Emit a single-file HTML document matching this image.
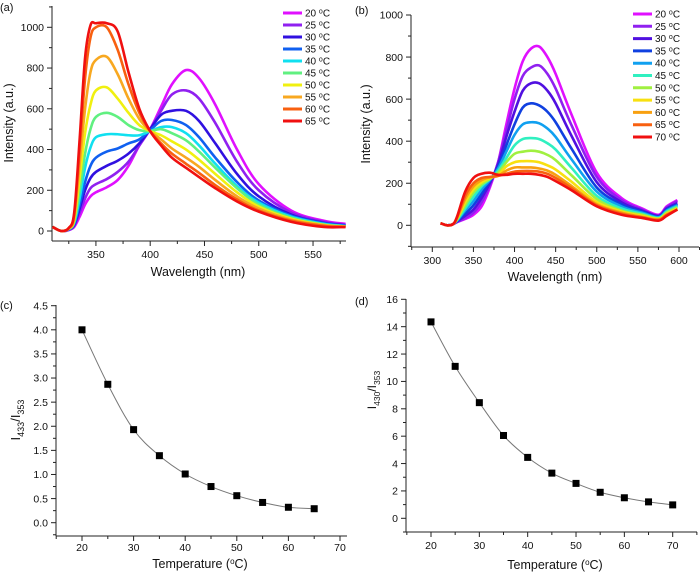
<!DOCTYPE html>
<html><head><meta charset="utf-8"><style>
html,body{margin:0;padding:0;background:#fff;}
svg{display:block;font-family:"Liberation Sans",Arial,sans-serif;}
</style></head><body>
<svg id="fig" width="700" height="572" viewBox="0 0 700 572" xmlns="http://www.w3.org/2000/svg"></svg>
<script>
// ---- Panel (a) data ----
const aWave = [310,318,325,330,335,340,345,350,360,370,380,390,400,410,420,433,445,460,480,500,530,560,580];
const aTemps = ["20 °C","25 °C","30 °C","35 °C","40 °C","45 °C","50 °C","55 °C","60 °C","65 °C"];
const aColors = ["#e010ff","#9020f0","#3010e0","#1060f0","#10e0f0","#60f080","#f0f010","#f8a820","#f86010","#f01010"];
const a20 = [20,0,5,20,70,130,170,190,215,250,320,420,500,610,720,790,750,620,400,230,100,50,35];
const a25 = [20,0,5,25,90,160,210,230,255,290,340,420,500,590,670,690,650,530,340,200,90,45,30];
const a30 = [20,0,8,30,110,200,260,290,320,345,380,430,500,570,590,590,540,430,280,170,80,40,28];
const a35 = [20,0,8,35,130,240,320,360,390,405,430,450,495,540,545,520,460,360,240,150,75,38,25];
const a40 = [20,0,10,40,160,310,410,460,475,475,470,470,490,510,510,480,420,330,220,140,70,35,25];
const a45 = [20,0,10,45,200,380,500,560,580,560,520,495,490,500,480,445,390,310,210,130,65,32,22];
const a50 = [20,0,12,55,260,480,620,690,705,650,580,520,490,470,440,400,350,280,190,120,60,30,22];
const a55 = [20,0,12,65,330,600,780,840,855,770,650,550,490,450,405,360,315,250,170,110,55,28,20];
const a60 = [20,0,15,80,400,750,950,1000,1000,890,720,580,490,430,380,330,285,225,155,100,50,25,20];
const a65 = [20,0,15,90,450,850,1010,1020,1020,980,780,600,490,420,360,310,265,210,145,95,45,20,20];
const aSeries = [a20,a25,a30,a35,a40,a45,a50,a55,a60,a65];
const aXTicks = [350,400,450,500,550];
const aYTicks = [0,200,400,600,800,1000];
// ---- Panel (b) data ----
const bWave = [310,318,325,330,340,350,360,370,380,390,400,410,420,430,440,450,470,500,530,555,575,585,598];
const bTemps = ["20 °C","25 °C","30 °C","35 °C","40 °C","45 °C","50 °C","55 °C","60 °C","65 °C","70 °C"];
const bColors = ["#e010ff","#9020f0","#5010e0","#1040e0","#10a0f0","#30f0c0","#a0f040","#f8e010","#f8a010","#f86010","#f01010"];
const b20 = [10,0,5,15,30,50,90,180,300,480,650,780,840,850,800,720,520,250,130,80,50,90,120];
const b25 = [10,0,5,15,35,60,110,190,300,450,600,710,750,760,720,650,470,230,120,75,45,85,115];
const b30 = [10,0,5,18,45,75,130,200,290,420,540,640,675,675,640,580,420,205,110,70,45,80,105];
const b35 = [10,0,5,20,55,95,150,210,280,380,480,560,580,570,540,490,360,180,100,65,40,75,100];
const b40 = [10,0,5,22,70,115,170,215,270,350,430,480,490,485,460,420,310,160,90,60,38,70,95];
const b45 = [10,0,5,25,80,135,185,220,260,320,380,410,415,410,390,360,270,140,80,55,35,65,90];
const b50 = [10,0,5,28,95,155,195,220,250,300,340,350,355,350,335,310,235,125,70,50,32,60,85];
const b55 = [10,0,5,30,110,170,205,225,240,280,300,305,305,300,285,265,205,110,65,45,30,55,80];
const b60 = [10,0,5,33,125,185,215,228,235,260,275,275,275,270,260,240,185,100,60,40,28,50,75];
const b65 = [10,0,5,36,140,200,225,230,235,245,255,258,258,255,245,225,175,95,55,38,25,50,75];
const b70 = [10,0,5,40,160,225,245,250,240,240,245,245,245,240,230,210,165,90,50,35,22,45,75];
const bSeries = [b20,b25,b30,b35,b40,b45,b50,b55,b60,b65,b70];
const bXTicks = [300,350,400,450,500,550,600];
const bYTicks = [0,200,400,600,800,1000];
// ---- Panel (c) data ----
const cTemps = [20,25,30,35,40,45,50,55,60,65];
const cRatio = [4.0,2.87,1.93,1.39,1.01,0.75,0.56,0.42,0.32,0.29];
const cXTicks = [20,30,40,50,60,70];
const cYTicks = [0,0.5,1,1.5,2,2.5,3,3.5,4,4.5];
// ---- Panel (d) data ----
const dTemps = [20,25,30,35,40,45,50,55,60,65,70];
const dRatio = [14.35,11.1,8.45,6.05,4.45,3.3,2.55,1.9,1.5,1.2,0.98];
const dXTicks = [20,30,40,50,60,70];
const dYTicks = [0,2,4,6,8,10,12,14,16];

const NS="http://www.w3.org/2000/svg";
const fig=document.getElementById('fig');
function el(tag,attrs,parent){const e=document.createElementNS(NS,tag);for(const k in attrs)e.setAttribute(k,attrs[k]);(parent||fig).appendChild(e);return e;}
function txt(s,x,y,size,anchor,parent){const t=el('text',{x:x,y:y,'font-size':size,'text-anchor':anchor||'middle',fill:'#111'},parent);t.textContent=s;return t;}
function lin(d0,d1,r0,r1){return v=>r0+(v-d0)*(r1-r0)/(d1-d0);}
function smooth(pts){let d='M'+pts[0][0].toFixed(2)+','+pts[0][1].toFixed(2);
 for(let i=0;i<pts.length-1;i++){const p0=pts[i-1]||pts[i],p1=pts[i],p2=pts[i+1],p3=pts[i+2]||p2;
  const c1=[p1[0]+(p2[0]-p0[0])/6,p1[1]+(p2[1]-p0[1])/6],c2=[p2[0]-(p3[0]-p1[0])/6,p2[1]-(p3[1]-p1[1])/6];
  d+='C'+c1[0].toFixed(2)+','+c1[1].toFixed(2)+' '+c2[0].toFixed(2)+','+c2[1].toFixed(2)+' '+p2[0].toFixed(2)+','+p2[1].toFixed(2);}
 return d;}
function axes(g,o){
 el('line',{x1:o.left,y1:o.bottom,x2:o.xEnd,y2:o.bottom,stroke:'#222','stroke-width':1},g);
 el('line',{x1:o.left,y1:o.bottom,x2:o.left,y2:o.yTop,stroke:'#222','stroke-width':1},g);
 const off=o.xOff||17;
 o.xt.forEach(v=>{const x=o.xs(v);el('line',{x1:x,y1:o.bottom,x2:x,y2:o.bottom+5,stroke:'#222'},g);txt(String(v),x,o.bottom+off,10.5,'middle',g);});
 o.xMinor.forEach(v=>{const x=o.xs(v);el('line',{x1:x,y1:o.bottom,x2:x,y2:o.bottom+3,stroke:'#222'},g);});
 o.yt.forEach(v=>{const y=o.ys(v);el('line',{x1:o.left-5,y1:y,x2:o.left,y2:y,stroke:'#222'},g);txt(o.yfmt(v),o.left-8,y+3.7,10.5,'end',g);});
 o.yMinor.forEach(v=>{const y=o.ys(v);el('line',{x1:o.left-3,y1:y,x2:o.left,y2:y,stroke:'#222'},g);});
}
function spectra(name,wave,series,colors,temps,xs,ys,legX,legY,legDy){
 const g=el('g',{});
 
 
 series.forEach((s,i)=>{const p=el('path',{d:smooth(wave.map((w,j)=>[xs(w),ys(s[j])])),fill:'none',stroke:colors[i],'stroke-width':2.6,'stroke-linejoin':'round'},g);
  
  });
 const lg=el('g',{});
 
 
 temps.forEach((t,i)=>{const y=legY+i*legDy;const e=el('g',{},lg);
  
  
  el('line',{x1:legX,y1:y,x2:legX+19,y2:y,stroke:colors[i],'stroke-width':3},e);
  const tt=el('text',{x:legX+22,y:y+3.5,'font-size':10,fill:'#111'},e);
  tt.innerHTML=t.split(' ')[0]+' <tspan font-size="7" dy="-3">o</tspan><tspan dy="3">C</tspan>';});
}
function scatter(name,xsD,ysD,xs,ys){
 const g=el('g',{});
 
 
 el('path',{d:smooth(xsD.map((v,i)=>[xs(v),ys(ysD[i])])),fill:'none',stroke:'#777','stroke-width':1},g);
 xsD.forEach((v,i)=>{const r=el('rect',{x:xs(v)-3.5,y:ys(ysD[i])-3.5,width:7,height:7,fill:'#000'},g);
  
  });
}
function range(a,b,s){const r=[];for(let v=a;v<=b+1e-9;v+=s)r.push(+v.toFixed(4));return r;}

// Panel a
{const xs=lin(310,580,52.5,345.6),ys=lin(0,1000,231,27.3);
 const g=el('g',{});
 axes(g,{left:52,bottom:241,xEnd:346,yTop:6,xs,ys,xt:aXTicks,yt:aYTicks,xMinor:range(325,575,50),yMinor:range(-0,1100,100).filter(v=>v%200),yfmt:v=>String(v)});
 spectra('panel-a',aWave,aSeries,aColors,aTemps,xs,ys,283,13,12);
 const l=txt('(a)',0,11,11,'start');
 const yl=txt('Intensity (a.u.)',0,0,12.5,'middle');yl.setAttribute('transform','translate(13,123) rotate(-90)');
 const xl=txt('Wavelength (nm)',198,276,12.5,'middle');}
// Panel b
{const xs=lin(300,600,432.3,679),ys=lin(0,1000,225.3,15);
 const g=el('g',{});
 axes(g,{left:411,bottom:247,xEnd:699,yTop:15,xs,ys,xt:bXTicks,yt:bYTicks,xMinor:range(275,625,50),yMinor:range(-100,900,200),yfmt:v=>String(v)});
 spectra('panel-b',bWave,bSeries,bColors,bTemps,xs,ys,633,14,12.3);
 const l=txt('(b)',355,14,11,'start');
 const yl=txt('Intensity (a.u.)',0,0,12.5,'middle');yl.setAttribute('transform','translate(370,124) rotate(-90)');
 const xl=txt('Wavelength (nm)',555,281,12.5,'middle');}
// Panel c
{const xs=lin(20,70,82,340),ys=lin(0,4.5,522.7,305.7);
 const g=el('g',{});
 axes(g,{left:56,bottom:536,xEnd:347,yTop:305,xs,ys,xOff:15,xt:cXTicks,yt:cYTicks,xMinor:range(15,65,10),yMinor:range(-0.25,4.25,0.5),yfmt:v=>v.toFixed(1)});
 scatter('panel-c',cTemps,cRatio,xs,ys);
 const l=txt('(c)',0,309,11,'start');
 const yl=el('text',{'font-size':13,fill:'#111','text-anchor':'middle',transform:'translate(20,420) rotate(-90)'});
 yl.innerHTML='I<tspan font-size="9" dy="4">433</tspan><tspan dy="-4">/I</tspan><tspan font-size="9" dy="4">353</tspan>';
 
 const xl=el('text',{x:200,y:568,'font-size':12.5,fill:'#111','text-anchor':'middle'});
 xl.innerHTML='Temperature (<tspan font-size="8" dy="-4">o</tspan><tspan dy="4">C)</tspan>';
 }
// Panel d
{const xs=lin(20,70,431,672.7),ys=lin(0,16,518.3,299.3);
 const g=el('g',{});
 axes(g,{left:406,bottom:532,xEnd:697,yTop:299,xs,ys,xt:dXTicks,yt:dYTicks,xMinor:range(15,75,10),yMinor:range(-1,15,2),yfmt:v=>String(v)});
 scatter('panel-d',dTemps,dRatio,xs,ys);
 const l=txt('(d)',355,305,11,'start');
 const yl=el('text',{'font-size':12,fill:'#111','text-anchor':'middle',transform:'translate(376,390) rotate(-90)'});
 yl.innerHTML='I<tspan font-size="8.5" dy="4">430</tspan><tspan dy="-4">/I</tspan><tspan font-size="8.5" dy="4">353</tspan>';
 
 const xl=el('text',{x:555,y:569,'font-size':12.5,fill:'#111','text-anchor':'middle'});
 xl.innerHTML='Temperature (<tspan font-size="8" dy="-4">o</tspan><tspan dy="4">C)</tspan>';
 }
</script>
</body></html>
